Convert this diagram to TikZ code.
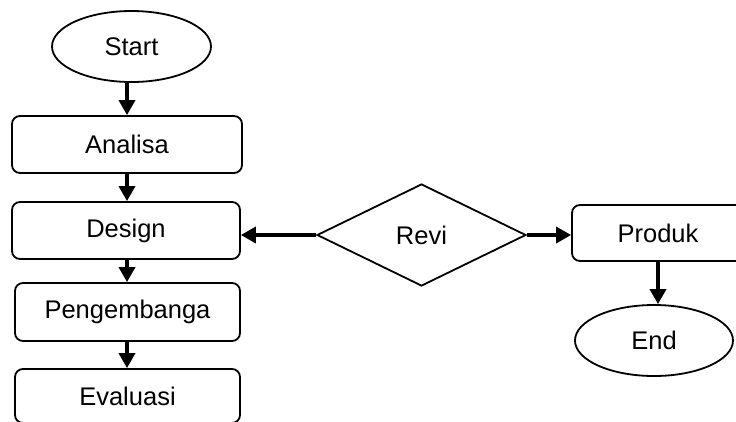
\documentclass[tikz,border=0pt]{standalone}
\usepackage{fontspec}
\setmainfont{Liberation Sans}
\usetikzlibrary{shapes.geometric,arrows.meta}
\begin{document}
\begin{tikzpicture}[x=1pt,y=-1pt,
  every node/.style={font=\fontsize{25.5}{30}\selectfont, inner sep=0pt},
  stepbox/.style={draw, line width=1.8pt, rounded corners=8pt, rectangle},
  termbox/.style={draw, line width=1.8pt, ellipse},
  decbox/.style={draw, line width=1.8pt, diamond},
  flow/.style={line width=3.5pt, -{Triangle[length=15pt,width=16pt]}}]
\clip (0,0) rectangle (736,421);
\fill[white] (0,0) rectangle (736,421);
\node[termbox, minimum width=159pt, minimum height=71pt] (start) at (131.5,46.5) {Start};
\node[stepbox, minimum width=230pt, minimum height=57pt] (analisa) at (127,144.5) {Analisa};
\node[stepbox, minimum width=228pt, minimum height=57pt] (design) at (126,230.5) {Design};
\node[stepbox, minimum width=225pt, minimum height=58pt] (peng) at (127.5,312) {Pengembanga};
\node[stepbox, minimum width=225pt, minimum height=54pt] (eval) at (127.5,396) {Evaluasi};
\node[decbox, minimum width=209pt, minimum height=102pt] (revi) at (421.5,235) {Revi};
\node[stepbox, minimum width=172pt, minimum height=56pt] (produk) at (658,233) {Produk};
\node[termbox, minimum width=158pt, minimum height=71pt] (end) at (654,340.5) {End};
\coordinate (a1) at (127,82);
\draw[flow] (a1) -- (a1 |- analisa.north);
\draw[flow] (analisa.south -| a1) -- (a1 |- design.north);
\draw[flow] (design.south -| a1) -- (a1 |- peng.north);
\draw[flow] (peng.south -| a1) -- (a1 |- eval.north);
\draw[flow] (revi.west) -- (design.east |- revi.west);
\draw[flow] (revi.east) -- (produk.west |- revi.east);
\draw[flow] (produk.south) -- (produk.south |- end.north);
\end{tikzpicture}
\end{document}
